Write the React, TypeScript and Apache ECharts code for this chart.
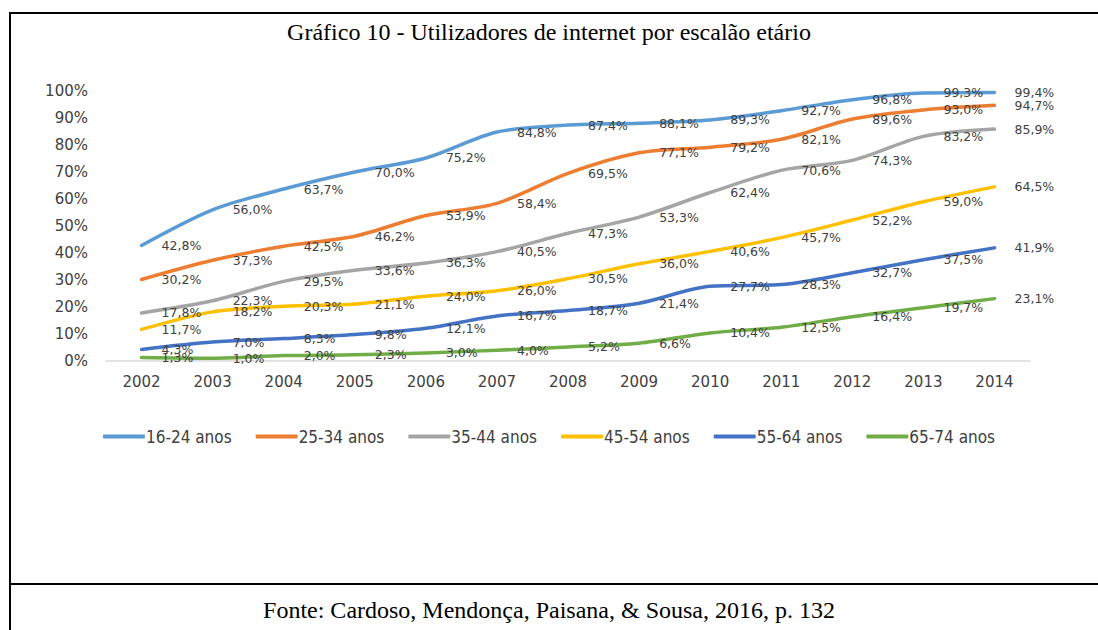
import React, { useEffect, useRef } from "react";
import * as echarts from "echarts";

const years = ["2002","2003","2004","2005","2006","2007","2008","2009","2010","2011","2012","2013","2014"];
const seriesNames = ["16-24 anos","25-34 anos","35-44 anos","45-54 anos","55-64 anos","65-74 anos"];
const s1624 = [42.8, 56.0, 63.7, 70.0, 75.2, 84.8, 87.4, 88.1, 89.3, 92.7, 96.8, 99.3, 99.4];
const s2534 = [30.2, 37.3, 42.5, 46.2, 53.9, 58.4, 69.5, 77.1, 79.2, 82.1, 89.6, 93.0, 94.7];
const s3544 = [17.8, 22.3, 29.5, 33.6, 36.3, 40.5, 47.3, 53.3, 62.4, 70.6, 74.3, 83.2, 85.9];
const s4554 = [11.7, 18.2, 20.3, 21.1, 24.0, 26.0, 30.5, 36.0, 40.6, 45.7, 52.2, 59.0, 64.5];
const s5564 = [4.3, 7.0, 8.3, 9.8, 12.1, 16.7, 18.7, 21.4, 27.7, 28.3, 32.7, 37.5, 41.9];
const s6574 = [1.3, 1.0, 2.0, 2.3, 3.0, 4.0, 5.2, 6.6, 10.4, 12.5, 16.4, 19.7, 23.1];
const colors = ["#5B9BD5", "#ED7D31", "#A5A5A5", "#FFC000", "#4472C4", "#70AD47"];
const titleText = "Gráfico 10 - Utilizadores de internet por escalão etário";
const sourceText = "Fonte: Cardoso, Mendonça, Paisana, & Sousa, 2016, p. 132";

export default function App() {
  const ref = useRef<HTMLDivElement>(null);
  useEffect(() => {
    document.body.style.margin = "0";
    const chart = echarts.init(ref.current!, undefined, { renderer: "svg" });
    const data = [s1624, s2534, s3544, s4554, s5564, s6574];
    chart.setOption({
      animation: false,
      backgroundColor: "#fff",
      color: colors,
      title: [
        {
          text: titleText, left: "center", top: 15,
          textStyle: { fontFamily: "Liberation Serif", fontSize: 24, fontWeight: "normal", color: "#000" },
        },
        {
          text: sourceText, left: "center", top: 593,
          textStyle: { fontFamily: "Liberation Serif", fontSize: 24, fontWeight: "normal", color: "#000" },
        },
      ],
      graphic: [
        { type: "line", shape: { x1: 9, y1: 13, x2: 1098, y2: 13 }, style: { stroke: "#000", lineWidth: 2 } },
        { type: "line", shape: { x1: 10, y1: 12, x2: 10, y2: 630 }, style: { stroke: "#000", lineWidth: 2 } },
        { type: "line", shape: { x1: 9, y1: 584, x2: 1098, y2: 584 }, style: { stroke: "#000", lineWidth: 2 } },
      ],
      legend: {
        top: 423,
        left: "center",
        itemWidth: 42,
        itemHeight: 4,
        itemGap: 24,
        icon: "roundRect",
        textStyle: { fontFamily: "DejaVu Sans Condensed", fontSize: 17, color: "#404040", padding: [0, 0, 0, -4] },
        data: seriesNames,
      },
      grid: { left: 106, right: 68, top: 91, bottom: 269 },
      xAxis: {
        type: "category",
        data: years,
        boundaryGap: true,
        axisLine: { lineStyle: { color: "#D9D9D9", width: 1.5 } },
        axisTick: { show: false },
        axisLabel: { fontFamily: "DejaVu Sans", fontSize: 15, color: "#404040", margin: 13 },
      },
      yAxis: {
        type: "value",
        min: 0, max: 100, interval: 10,
        axisLine: { show: false },
        axisTick: { show: false },
        splitLine: { show: false },
        axisLabel: { fontFamily: "DejaVu Sans", fontSize: 15, color: "#404040", margin: 18, formatter: "{value}%" },
      },
      series: data.map((d, i) => ({
        name: seriesNames[i],
        type: "line",
        data: d,
        smooth: 0.3,
        showSymbol: true,
        symbol: "circle",
        symbolSize: 0.1,
        lineStyle: { width: 3.5, color: colors[i], cap: "round", join: "round" },
        itemStyle: { color: colors[i] },
        label: {
          show: true,
          position: "right",
          distance: 20,
          fontFamily: "DejaVu Sans",
          fontSize: 12.5,
          color: "#404040",
          formatter: (p: any) => p.value.toFixed(1).replace(".", ",") + "%",
        },
      })),
    });
    return () => chart.dispose();
  }, []);
  return <div ref={ref} style={{ position: "fixed", left: 0, top: 0, width: 1098, height: 630 }} />;
}
